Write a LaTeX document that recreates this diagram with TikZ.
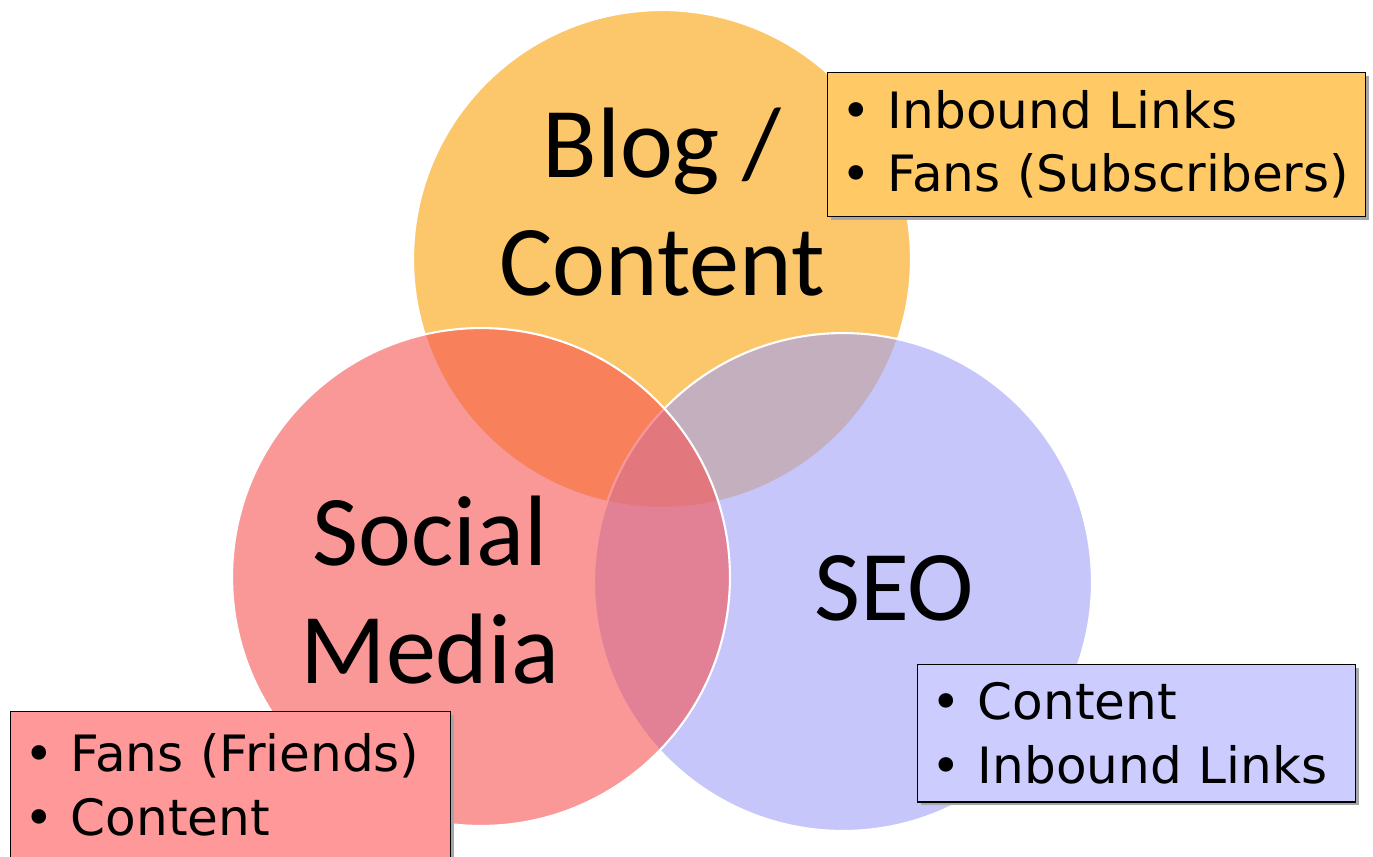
\documentclass[tikz,border=0pt]{standalone}
\usepackage{fontspec}
\setmainfont{DejaVu Sans}
\newfontfamily\labelfont{Carlito}
\usetikzlibrary{shadows}

\definecolor{blogorange}{HTML}{FCC66A}
\definecolor{socialred}{RGB}{246,84,84}
\definecolor{seoblue}{RGB}{160,160,248}
\definecolor{boxorange}{HTML}{FFC966}
\definecolor{boxred}{HTML}{FF9999}
\definecolor{boxblue}{HTML}{CCCCFF}

\tikzset{
  venn/.style={circle, minimum size=9.96cm, inner sep=0pt, draw=white, line width=1.2pt},
  biglabel/.style={font=\labelfont\fontsize{57}{67}\selectfont, align=center, inner sep=0pt},
  listbox/.style={draw=black, line width=0.8pt, anchor=north west, align=left,
    inner xsep=0.28cm, inner ysep=0.36cm,
    font=\fontsize{28.5}{36}\selectfont,
    drop shadow={shadow xshift=0.06cm, shadow yshift=-0.06cm, fill=gray!70, opacity=1}}
}

\begin{document}
\begin{tikzpicture}[x=0.02cm,y=-0.02cm]
  \useasboundingbox (0,0) rectangle (1373,856);

  % circles
  \node[venn, fill=blogorange] (blog) at (662,259) {};
  \node[venn, fill=seoblue, fill opacity=0.6] (seo) at (843,582) {};
  \node[venn, fill=socialred, fill opacity=0.6] (social) at (481,577) {};

  % circle labels
  \node[biglabel] (bloglabel) at (662,202) {Blog /\\Content};
  \node[biglabel] (sociallabel) at (430,590) {Social\\Media};
  \node[biglabel, anchor=base] (seolabel) at (894,620) {SEO};

  % lists
  \node[listbox, fill=boxorange, text width=10.2cm] (bloglist) at (827,72)
    {• Inbound Links\\• Fans (Subscribers)};
  \node[listbox, fill=boxblue, text width=8.2cm] (seolist) at (917,664)
    {• Content\\• Inbound Links};
  \node[listbox, fill=boxred, text width=8.24cm, inner ysep=0.44cm] (sociallist) at (10,711)
    {• Fans (Friends)\\• Content};
\end{tikzpicture}
\end{document}
